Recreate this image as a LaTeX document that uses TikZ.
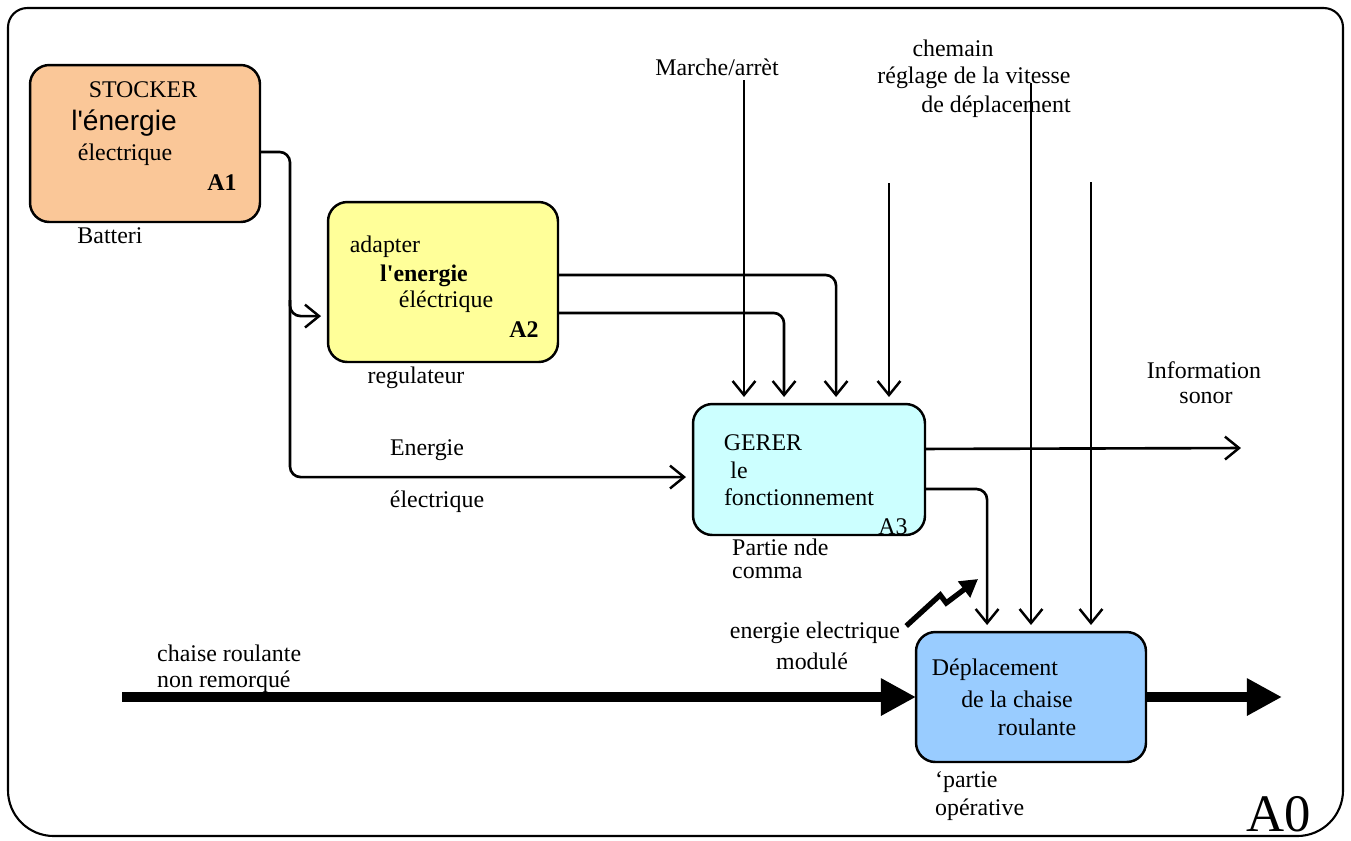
\documentclass[tikz,border=0pt]{standalone}
\usepackage{fontspec}
\setmainfont{Liberation Serif}
\newfontfamily\arialfont{Liberation Sans}
\usetikzlibrary{arrows.meta}

\definecolor{stockfill}{RGB}{250,199,152}
\definecolor{adaptfill}{RGB}{255,255,153}
\definecolor{gererfill}{RGB}{204,255,255}
\definecolor{deplfill}{RGB}{153,204,255}

\tikzset{
    box/.style={draw, line width=1.4pt, rounded corners=11pt, outer sep=0pt, inner sep=0pt},
    flow/.style={line width=1.5pt, rounded corners=6pt, shorten >=4pt,
        -{Straight Barb[length=8pt,width=13pt,line width=1.4pt]}},
    bigflow/.style={line width=5.5pt, -{Triangle[length=20pt,width=20pt]}},
    zig/.style={line width=3pt, -{Triangle[length=10pt,width=11pt]}},
    refno/.style={font=\fontsize{13.6}{16}\selectfont\bfseries}
}

\begin{document}
\begin{tikzpicture}[x=0.02cm, y=-0.02cm, every node/.style={font=\fontsize{13.6}{16}\selectfont}]
    \useasboundingbox (0,0) rectangle (1351,840);

    % Frame
    \draw[line width=1.2pt] (8,420) [rounded corners=11pt] |- (676,8) -| (1343,420)
        [rounded corners=26pt] |- (676,836) -| (8,420);
    \node[font=\fontsize{30}{30}\selectfont] (a0) at (1279,814) {A0};

    % Activity boxes
    \node[box, fill=stockfill, minimum width=4.6cm, minimum height=3.14cm] (a1) at (145,143.5) {};
    \node[box, fill=adaptfill, minimum width=4.6cm, minimum height=3.2cm] (a2) at (443,282) {};
    \node[box, fill=gererfill, minimum width=4.64cm, minimum height=2.62cm] (a3) at (809,469.5) {};
    \node[box, fill=deplfill, minimum width=4.6cm, minimum height=2.6cm] (a4) at (1031,697) {};

    % Box texts
    \node (a1t1) at (143,90) {STOCKER};
    \node[font=\arialfont\fontsize{16}{18}\selectfont] (a1t2) at (124,123) {l\textquotesingle énergie};
    \node (a1t3) at (125,155) {électrique};
    \node[refno] (a1n) at (222,183) {A1};
    \node (a1m) at (110,236) {Batteri};

    \node (a2t1) at (385,247) {adapter};
    \node[refno] (a2t2) at (424,276) {l\textquotesingle energie};
    \node (a2t3) at (446,302) {éléctrique};
    \node[refno] (a2n) at (524,330) {A2};
    \node (a2m) at (416,378) {regulateur};

    \node (a3t1) at (763,443) {GERER};
    \node (a3t2) at (739,470) {le};
    \node (a3t3) at (799,497) {fonctionnement};
    \node (a3n) at (893,527) {A3};
    \node[anchor=west] (a3m1) at (726,547) {Partie nde};
    \node[anchor=west] (a3m2) at (726,573) {comma};

    \node (a4t1) at (995,670) {Déplacement};
    \node (a4t2) at (1017,699) {de la chaise};
    \node (a4t3) at (1037,727) {roulante};
    \node[anchor=west] (a4m1) at (929,782) {‘partie};
    \node[anchor=west] (a4m2) at (929,810) {opérative};

    % Other labels
    \node (marche) at (717,67) {Marche/arrèt};
    \node (chemain) at (953,48) {chemain};
    \node (reglage) at (974,78) {réglage de la vitesse};
    \node (deplac) at (996,107) {de déplacement};
    \node (info1) at (1204,370) {Information};
    \node (info2) at (1206,398) {sonor};
    \node (ener1) at (427,450) {Energie};
    \node (ener2) at (437,502) {électrique};
    \node (mod1) at (815,633) {energie electrique};
    \node (mod2) at (812,661) {modulé};
    \node[anchor=west] (chaise1) at (151,653) {chaise roulante};
    \node[anchor=west] (chaise2) at (151,682) {non remorqué};

    % Free ends
    \coordinate (bus) at (290,300);
    \coordinate (m1) at (744,80);
    \coordinate (c1) at (889,183);
    \coordinate (m2) at (1031,83);
    \coordinate (c2) at (1091,182);
    \coordinate (out3) at (1248,448);
    \coordinate (in4) at (122,697);
    \coordinate (out4) at (1282,697);
    \coordinate (zz) at (978,579);

    % Energy from A1
    \draw[flow] ([yshift=-4.8pt]a1.east) -| (bus) |- ([yshift=-4.3pt]a3.west);
    \draw[flow] (bus) |- ([yshift=-19.4pt]a2.west);

    % A2 to A3
    \draw[flow] ([yshift=4pt]a2.east) -| ([xshift=15.4pt]a3.north);
    \draw[flow] ([yshift=-17.6pt]a2.east) -| ([xshift=-14.2pt]a3.north);

    % Controls
    \draw[flow] (m1) -- (m1 |- a3.north);
    \draw[flow] (c1) -- (c1 |- a3.north);
    \draw[flow] (m2) -- (m2 |- a4.north);
    \draw[flow] (c2) -- (c2 |- a4.north);

    % Outputs of A3
    \draw[flow] ([yshift=11.7pt]a3.east) -- (out3 |- 0,448);
    \draw[flow] ([yshift=-11.1pt]a3.east) -| ([xshift=-25pt]a4.north);

    % Modulated energy
    \draw[zig] ([yshift=4pt]mod1.east) -- ++(34,-31) -- ++(6,8) -- (zz);

    % Main flow
    \draw[bigflow] (in4) -- (a4.west);
    \draw[bigflow] (a4.east) -- (out4);
\end{tikzpicture}
\end{document}
